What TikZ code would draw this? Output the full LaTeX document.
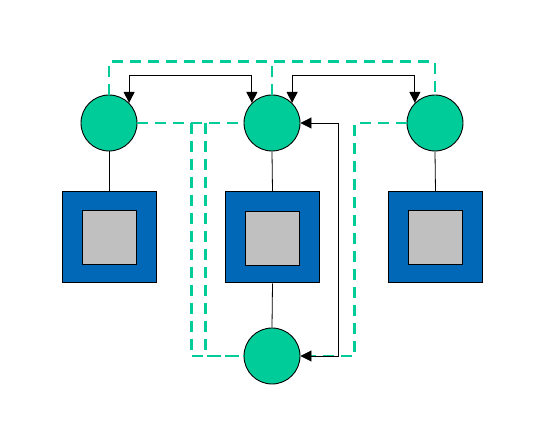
\documentclass[tikz,border=0pt]{standalone}
\usepackage{xcolor}
\usepackage{tikz}
\usetikzlibrary{arrows.meta, positioning, calc}
\definecolor{hubgreen}{RGB}{0,204,153}
\definecolor{boxblue}{RGB}{0,104,183}
\definecolor{coregray}{RGB}{192,192,192}

\begin{document}
\begin{tikzpicture}[x=1pt, y=-1pt,
    hub/.style={circle, draw=black, line width=0.9pt, fill=hubgreen,
        minimum size=56pt, inner sep=0pt},
    dev/.style={draw=black, line width=1pt, fill=boxblue,
        minimum width=94pt, minimum height=91pt, inner sep=0pt},
    core/.style={draw=black, line width=1pt, fill=coregray,
        minimum width=54pt, minimum height=54pt, inner sep=0pt},
    link/.style={draw=black, line width=0.8pt},
    ctrl/.style={{Triangle[length=11pt,width=11pt]}-{Triangle[length=11pt,width=11pt]}, line width=0.9pt},
    sync/.style={draw=hubgreen, line width=2.8pt, dash pattern=on 11pt off 7pt}
]
\useasboundingbox (0,0) rectangle (539,438);
% hubs
\node[hub] (h1) at (109,123) {};
\node[hub] (h2) at (272,123) {};
\node[hub] (h3) at (435,123) {};
\node[hub] (h4) at (272,356) {};
% devices
\node[dev] (b1) at (109,237.5) {};
\node[dev] (b2) at (272.5,237.5) {};
\node[dev] (b3) at (435.5,237.5) {};
\node[core] (k1) at (109,238) {};
\node[core] (k2) at (272.5,238.5) {};
\node[core] (k3) at (435.5,238) {};
% dashed sync lines
\draw[sync] (h1.north) -- ++(0,-33) coordinate (top) -| (h3.north);
\draw[sync] (h2.north) -- (h2.north |- top);
\draw[sync] (h1.east) -- (h2.west);
\draw[sync] ([xshift=54pt]h1.east) |- (h4.west);
\draw[sync] ([xshift=-38pt]h2.west) |- (h4.west);
\draw[sync] (h3.west) -| ([xshift=54pt]h4.east) -- (h4.east);
% wires
\draw[link] (h1.south) -- (b1.north);
\draw[link] (h2.south) -- (b2.north);
\draw[link] (h3.south) -- (b3.north);
\draw[link] (b2.south) -- (h4.north);
% control arrows
\draw[ctrl] (h1.45) -- ++(0,-27) -| (h2.135);
\draw[ctrl] (h2.45) -- ++(0,-27) -| (h3.135);
\draw[ctrl] (h2.east) -- ++(38,0) |- (h4.east);
\end{tikzpicture}
\end{document}
